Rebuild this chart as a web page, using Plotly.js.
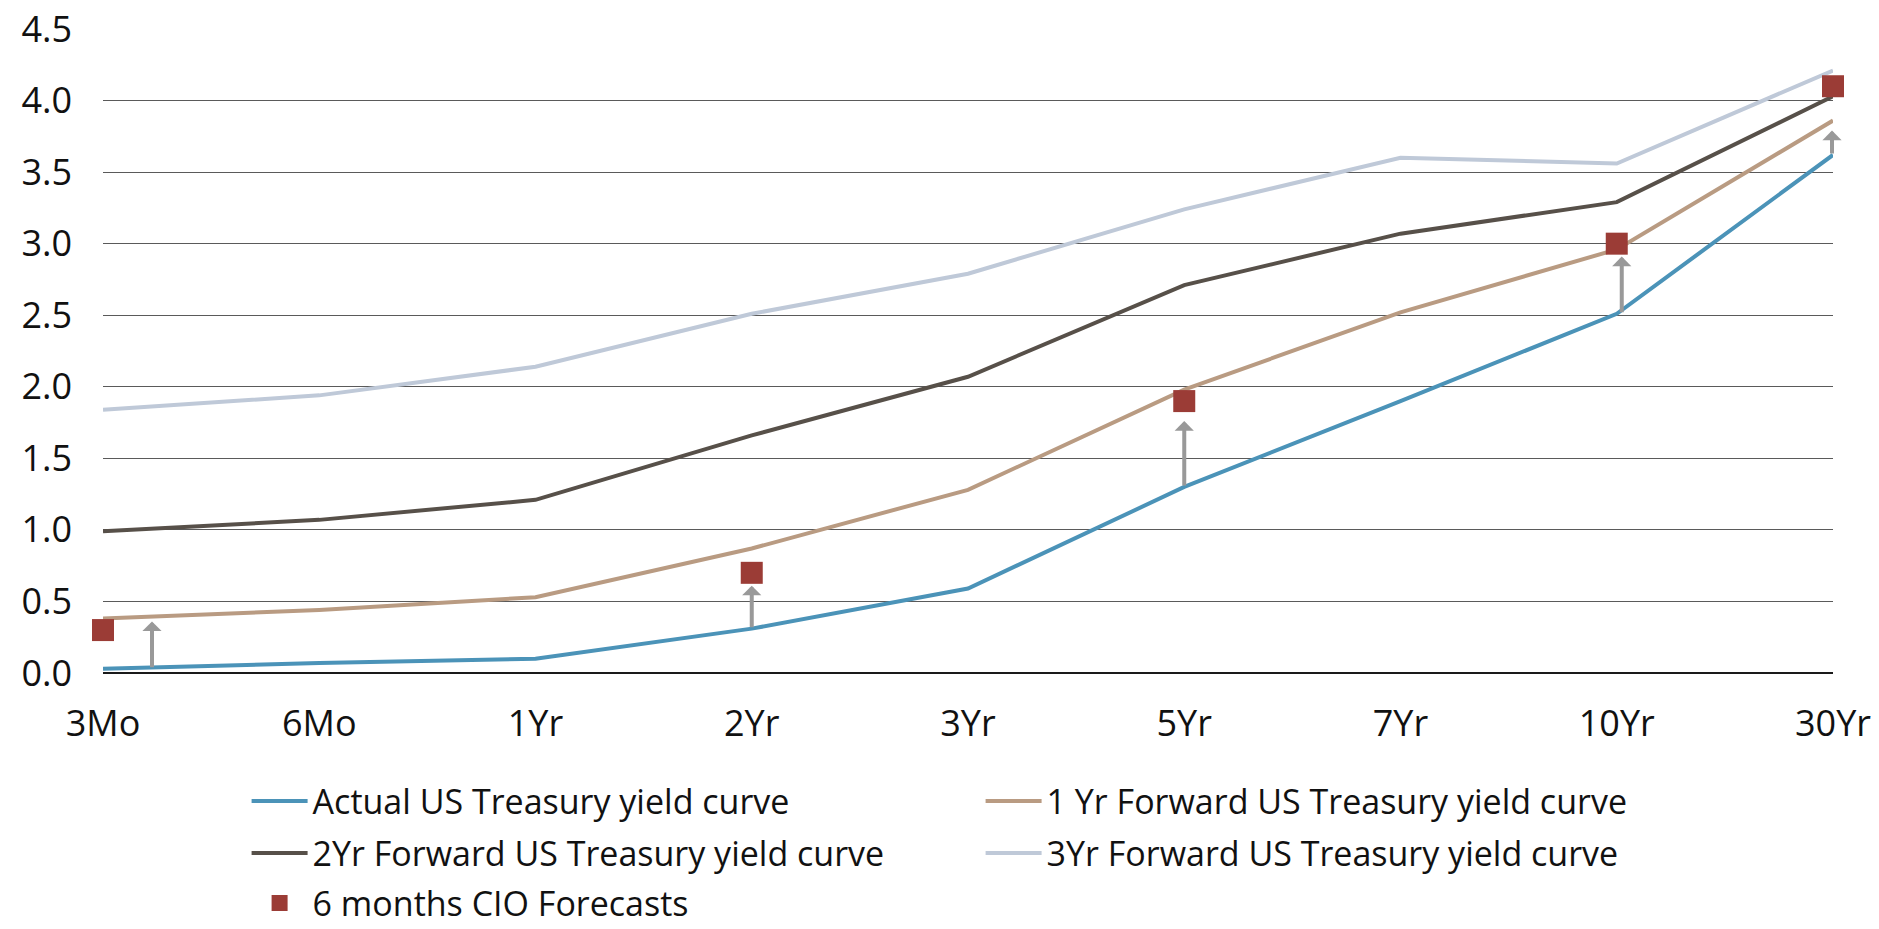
<!DOCTYPE html>
<html>
<head>
<meta charset="utf-8">
<script src="https://cdn.plot.ly/plotly-3.0.1.min.js"></script>
<style>
  html, body { margin: 0; padding: 0; background: #ffffff; }
  #chart { width: 1879px; height: 929px; }
</style>
</head>
<body>
<div id="chart"></div>
<script>
// ---- data ----
const categories = ['3Mo', '6Mo', '1Yr', '2Yr', '3Yr', '5Yr', '7Yr', '10Yr', '30Yr'];
const actualCurve = [0.03, 0.07, 0.10, 0.31, 0.59, 1.30, 1.90, 2.51, 3.62];
const forward1Yr = [0.38, 0.44, 0.53, 0.87, 1.28, 1.98, 2.52, 2.96, 3.86];
const forward2Yr = [0.99, 1.07, 1.21, 1.66, 2.07, 2.71, 3.07, 3.29, 4.03];
const forward3Yr = [1.84, 1.94, 2.14, 2.51, 2.79, 3.24, 3.60, 3.56, 4.21];
const cioForecast = [0.30, null, null, 0.70, null, 1.90, null, 3.00, 4.10];
const arrowTop = [0.36, null, null, 0.61, null, 1.76, null, 2.91, 3.79];
const yTicks = [0, 0.5, 1.0, 1.5, 2.0, 2.5, 3.0, 3.5, 4.0, 4.5];

const names = {
  actual: 'Actual US Treasury yield curve',
  f1: '1 Yr Forward US Treasury yield curve',
  f2: '2Yr Forward US Treasury yield curve',
  f3: '3Yr Forward US Treasury yield curve',
  cio: '6 months CIO Forecasts'
};

// ---- styles ----
const FONT = '"Open Sans", "Noto Sans", sans-serif';
const colors = {
  actual: '#4b93b8',
  f1: '#b99b82',
  f2: '#575049',
  f3: '#bfc9d8',
  cio: '#9b3c36',
  arrow: '#999999'
};

function lineTrace(y, name, color, legend) {
  return {
    type: 'scatter', mode: 'lines', x: categories, y: y, name: name,
    line: { color: color, width: 4 }, cliponaxis: false, legend: legend,
    hoverinfo: 'skip'
  };
}

const traces = [
  lineTrace(actualCurve, names.actual, colors.actual, 'legend'),
  lineTrace(forward1Yr, names.f1, colors.f1, 'legend'),
  lineTrace(forward2Yr, names.f2, colors.f2, 'legend2'),
  lineTrace(forward3Yr, names.f3, colors.f3, 'legend2'),
  {
    type: 'scatter', mode: 'markers', x: categories, y: cioForecast, name: names.cio,
    marker: { symbol: 'square', size: 22, color: colors.cio },
    cliponaxis: false, legend: 'legend3', hoverinfo: 'skip'
  }
];

// arrows from actual curve up toward forecasts
const arrowShift = [49, 0, 0, 0, 0, 0, 0, 5, -1];
const annotations = [];
categories.forEach((c, i) => {
  if (arrowTop[i] === null) return;
  annotations.push({
    x: c, y: arrowTop[i], ax: c, ay: actualCurve[i],
    xref: 'x', yref: 'y', axref: 'x', ayref: 'y',
    text: '', showarrow: true, arrowhead: 1, arrowsize: 0.8, arrowwidth: 4,
    arrowcolor: colors.arrow, xshift: arrowShift[i], standoff: 0, startstandoff: 0
  });
});

const legendBase = {
  orientation: 'h', xanchor: 'left', yanchor: 'middle',
  font: { family: FONT, size: 34, color: '#111111' },
  bgcolor: 'rgba(0,0,0,0)', borderwidth: 0,
  entrywidth: 663, entrywidthmode: 'pixels', itemwidth: 56, traceorder: 'normal'
};

const layout = {
  width: 1879, height: 929,
  margin: { l: 103, r: 46, t: 29, b: 256, pad: 0, autoexpand: false },
  paper_bgcolor: '#ffffff', plot_bgcolor: '#ffffff',
  font: { family: FONT, size: 36, color: '#111111' },
  showlegend: true,
  xaxis: {
    type: 'category', range: [0, categories.length - 1],
    showgrid: false, showline: false, zeroline: false, ticks: '',
    tickfont: { family: FONT, size: 36, color: '#111111' },
    ticklabelstandoff: 26, fixedrange: true, automargin: false
  },
  yaxis: {
    range: [0, 4.5], tickmode: 'array', tickvals: yTicks,
    ticktext: yTicks.map(v => v.toFixed(1)),
    showgrid: true, gridcolor: '#5a5a5a', gridwidth: 1,
    zeroline: true, zerolinecolor: '#1a1a1a', zerolinewidth: 2,
    showline: false, ticks: '',
    tickfont: { family: FONT, size: 36, color: '#111111' },
    ticklabelstandoff: 30, fixedrange: true, automargin: false
  },
  legend: Object.assign({}, legendBase, { x: 0.083, y: -0.1995 }),
  legend2: Object.assign({}, legendBase, { x: 0.083, y: -0.2802 }),
  legend3: Object.assign({}, legendBase, { x: 0.083, y: -0.3578 }),
  annotations: annotations
};

Plotly.newPlot('chart', traces, layout, { staticPlot: true, displayModeBar: false });
</script>
</body>
</html>
